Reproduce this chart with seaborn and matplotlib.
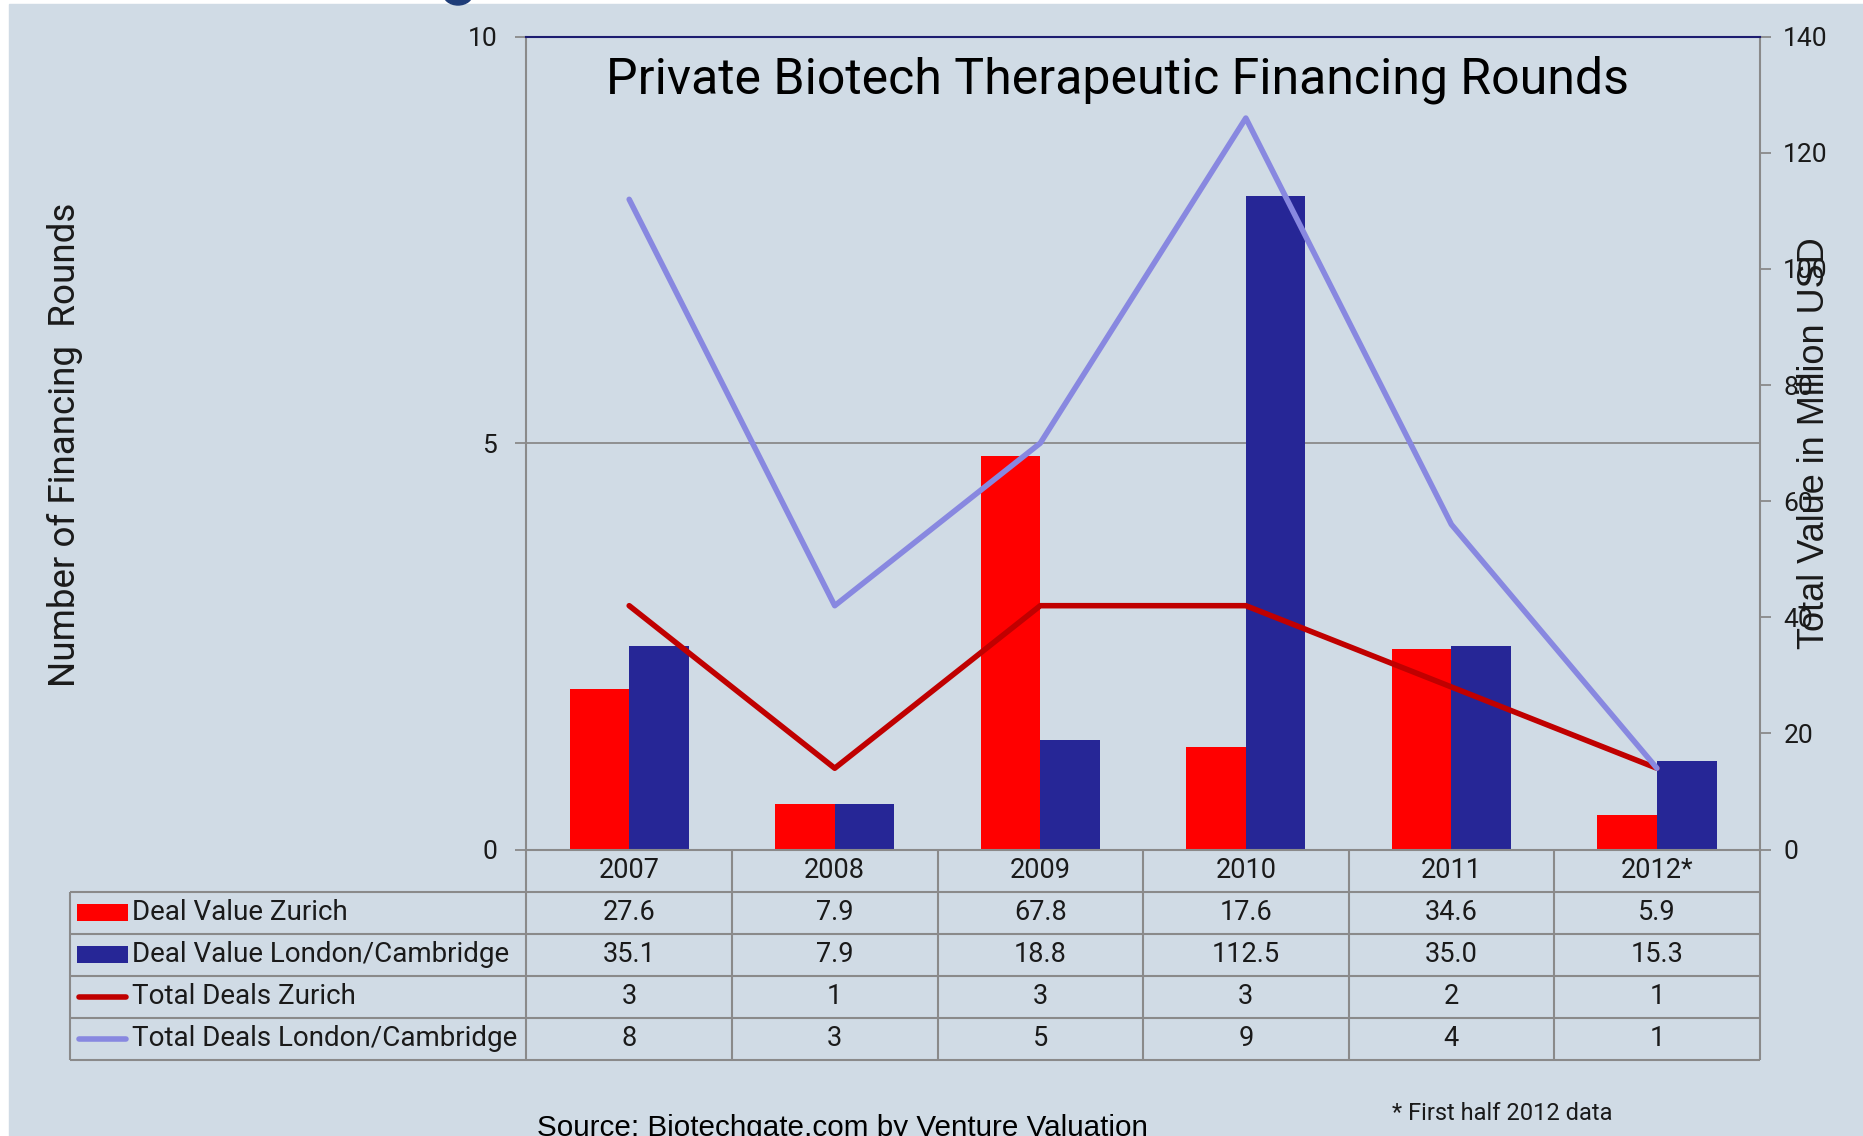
import numpy as np
import pandas as pd
import matplotlib
matplotlib.use("Agg")
import matplotlib.pyplot as plt
from matplotlib.patches import Rectangle, Ellipse
import seaborn as sns

# Chart data
years = ["2007", "2008", "2009", "2010", "2011", "2012*"]
value_zurich = [27.6, 7.9, 67.8, 17.6, 34.6, 5.9]
value_london = [35.1, 7.9, 18.8, 112.5, 35.0, 15.3]
deals_zurich = [3, 1, 3, 3, 2, 1]
deals_london = [8, 3, 5, 9, 4, 1]

value_names = ["Deal Value Zurich", "Deal Value London/Cambridge"]
deal_names = ["Total Deals Zurich", "Total Deals London/Cambridge"]

colors = {
    "Deal Value Zurich": "#ff0000",
    "Deal Value London/Cambridge": "#262696",
    "Total Deals Zurich": "#c00000",
    "Total Deals London/Cambridge": "#8888e0",
}

BG = "#d0dbe5"
GRID = "#8a8a8a"
W, H = 1863, 1136

sns.set_theme(style="white")
plt.rcParams["font.family"] = ["Roboto", "DejaVu Sans"]

fig = plt.figure(figsize=(W / 100, H / 100), dpi=100, facecolor="white")


def px_axes(x0, y0, x1, y1):
    # axes placed in pixel coordinates measured from the top-left corner
    return fig.add_axes([x0 / W, 1 - y1 / H, (x1 - x0) / W, (y1 - y0) / H])


# background panel (thin white margin on left/top) and the cut-off logo
fig.add_artist(Rectangle((9 / W, 0), 1, 1 - 4 / H, transform=fig.transFigure,
                         color=BG, zorder=0))
fig.add_artist(Ellipse((458 / W, 1 + 7 / H), 30 / W, 24 / H,
                       transform=fig.transFigure, color="#1e3c78", zorder=5))

# main plot: bars on value axis (right ticks), lines on twin count axis (left ticks)
ax = px_axes(526.4, 36.8, 1759.7, 849.5)
ax.set_facecolor(BG)

values_df = pd.DataFrame({
    "year": years * 2,
    "value": value_zurich + value_london,
    "series": [value_names[0]] * len(years) + [value_names[1]] * len(years),
})
sns.barplot(data=values_df, x="year", y="value", hue="series",
            hue_order=value_names, palette=colors, saturation=1,
            width=0.58, gap=0, linewidth=0, legend=False, ax=ax)

ax2 = ax.twinx()
deals_df = pd.DataFrame({
    "year": years * 2,
    "deals": deals_zurich + deals_london,
    "series": [deal_names[0]] * len(years) + [deal_names[1]] * len(years),
})
sns.lineplot(data=deals_df, x="year", y="deals", hue="series",
             hue_order=deal_names, palette=colors, linewidth=4,
             sort=False, legend=False, ax=ax2)

# value axis -> right side
ax.set_xlim(-0.5, len(years) - 0.5)
ax.set_ylim(0, 140)
ax.set_yticks(np.arange(0, 141, 20))
ax.yaxis.tick_right()
ax.set_xlabel("")
ax.set_ylabel("")
ax.tick_params(axis="x", labelbottom=False, length=0)
ax.tick_params(axis="y", which="major", length=8, width=1.3, color=GRID,
               labelsize=19, pad=9, labelcolor="#1a1a1a")
# single horizontal gridline at 5 rounds (= 70 on the value scale)
ax.set_yticks([5 * 140 / 10], minor=True)
ax.tick_params(axis="y", which="minor", length=0, labelright=False)
ax.grid(which="minor", axis="y", color=GRID, lw=1.3)
ax.set_axisbelow(True)
for s in ax.spines.values():
    s.set_visible(False)

# count axis -> left side
ax2.set_ylim(0, 10)
ax2.set_yticks([0, 5, 10])
ax2.yaxis.tick_left()
ax2.set_xlabel("")
ax2.set_ylabel("")
ax2.tick_params(axis="y", length=8, width=1.3, color=GRID, labelsize=19,
                pad=13, labelcolor="#1a1a1a")
ax2.tick_params(axis="x", labelbottom=False, length=0)
for name in ["left", "right", "bottom"]:
    ax2.spines[name].set_color(GRID)
    ax2.spines[name].set_linewidth(1.5)
ax2.spines["top"].set_color("#1c1c70")
ax2.spines["top"].set_linewidth(1.5)

# titles and axis labels
fig.text(1117 / W, 1 - 80 / H, "Private Biotech Therapeutic Financing Rounds",
         ha="center", va="center", fontsize=36, color="black")
fig.text(65 / W, 1 - 445 / H, "Number of Financing  Rounds", rotation=90,
         ha="center", va="center", fontsize=26.5, color="#1a1a1a")
fig.text(1815 / W, 1 - 443 / H, "Total Value in Million USD", rotation=90,
         ha="center", va="center", fontsize=26, color="#1a1a1a",
         family=["Liberation Sans", "DejaVu Sans"])

# data table below the chart
tab = px_axes(70.1, 849.5, 1759.7, 1059.9)
label_w = (526.4 - 70.1) / ((1759.7 - 526.4) / len(years))
left = -0.5 - label_w
right = len(years) - 0.5
tab.set_xlim(left, right)
tab.set_ylim(5, 0)
tab.axis("off")

bounds = np.arange(-0.5, len(years), 1.0)
tab.vlines(bounds, 0, 5, color=GRID, lw=1.5, clip_on=False)
tab.vlines([left], 1, 5, color=GRID, lw=1.5, clip_on=False)
tab.hlines(np.arange(1, 6), left, right, color=GRID, lw=1.5, clip_on=False)

rows = [
    (value_names[0], [f"{v:.1f}" for v in value_zurich], "bar"),
    (value_names[1], [f"{v:.1f}" for v in value_london], "bar"),
    (deal_names[0], [str(v) for v in deals_zurich], "line"),
    (deal_names[1], [str(v) for v in deals_london], "line"),
]

for i, yr in enumerate(years):
    tab.text(i, 0.5, yr, ha="center", va="center", fontsize=19.5, color="#1a1a1a")

sw0, sw1 = left + 0.034, left + 0.28
for r, (name, cells, kind) in enumerate(rows, start=1):
    yc = r + 0.5
    if kind == "bar":
        tab.add_patch(Rectangle((sw0, yc - 0.2), sw1 - sw0, 0.4,
                                color=colors[name], lw=0))
    else:
        tab.plot([sw0 + 0.01, sw1 - 0.01], [yc, yc], color=colors[name],
                 lw=4, solid_capstyle="round")
    tab.text(left + 0.30, yc, name, ha="left", va="center", fontsize=20,
             color="#1a1a1a")
    for i, c in enumerate(cells):
        tab.text(i, yc, c, ha="center", va="center", fontsize=19.5,
                 color="#1a1a1a")

# footnotes
fig.text(537 / W, 1 - 1114 / H, "Source: Biotechgate.com by Venture Valuation",
         ha="left", va="top", fontsize=21.3, color="black",
         family=["Liberation Sans", "DejaVu Sans"])
fig.text(1392 / W, 1 - 1113 / H, "* First half 2012 data", ha="left",
         va="center", fontsize=17, color="#1a1a1a")

fig.savefig("out.png", dpi=100, facecolor=fig.get_facecolor())
